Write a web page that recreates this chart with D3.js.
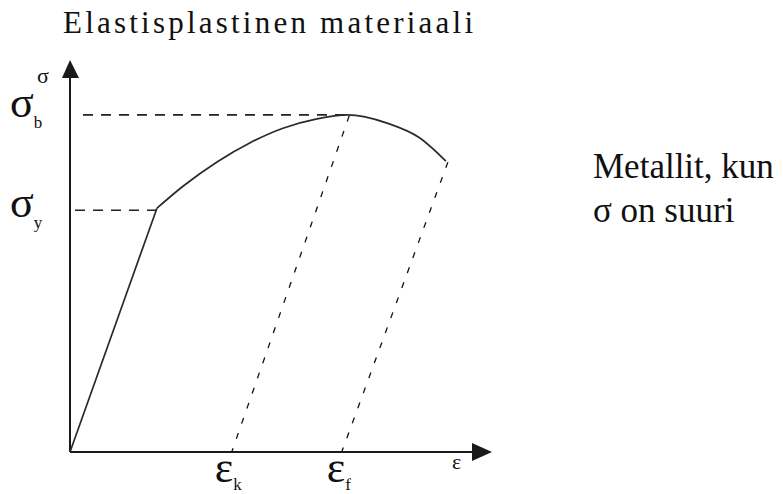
<!DOCTYPE html>
<html>
<head>
<meta charset="utf-8">
<script src="https://cdn.jsdelivr.net/npm/d3@7"></script>
<style>
  body { margin: 0; background: #fff; }
  svg text { font-family: "Liberation Serif", "DejaVu Serif", serif; fill: #111; }
</style>
</head>
<body>
<div id="chart"></div>
<script>
var width = 783, height = 494;

// stress-strain curve (arbitrary units, strain 0..100, stress 0..100)
var elasticStrain = [0, 20.7];
var elasticStress = [0, 62.2];
var plasticStrain = [20.7, 26.9, 35.0, 42.9, 50.7, 58.8, 66.0, 75.5, 83.3, 89.5];
var plasticStress = [62.2, 67.8, 74.0, 78.9, 82.6, 85.0, 86.0, 83.9, 80.1, 74.2];

// reference levels
var sigmaY = 62.2, sigmaB = 86.0;
var epsK = 38.5, epsF = 64.7;
var ultimatePoint = [66.0, 86.0];
var fracturePoint = [89.5, 74.2];

var titleText = "Elastisplastinen materiaali";
var noteLines = ["Metallit, kun", "\u03c3 on suuri"];

var serif = "'Liberation Serif', 'DejaVu Serif', serif";

var svg = d3.select("#chart")
  .append("svg")
  .attr("width", width)
  .attr("height", height);

var xScale = d3.scaleLinear()
  .domain([0, 100])
  .range([70, 490]);

var yScale = d3.scaleLinear()
  .domain([0, 100])
  .range([452, 60]);

// title
svg.append("text")
  .attr("x", 63)
  .attr("y", 33)
  .attr("textLength", 410)
  .attr("lengthAdjust", "spacing")
  .style("font-family", serif)
  .style("font-size", "31px")
  .text(titleText);

// side note
svg.selectAll(".note")
  .data(noteLines)
  .enter()
  .append("text")
  .attr("class", "note")
  .attr("x", 593)
  .attr("y", (d, i) => 178 + i * 44)
  .style("font-family", serif)
  .style("font-size", "35px")
  .text(d => d);

// axes
var axisColor = "#1a1a1a";
svg.append("line")
  .attr("x1", xScale(0)).attr("y1", yScale(0))
  .attr("x2", xScale(0)).attr("y2", yScale(100) + 10)
  .style("stroke", axisColor).style("stroke-width", 2);
svg.append("line")
  .attr("x1", xScale(0)).attr("y1", yScale(0))
  .attr("x2", xScale(100) - 10).attr("y2", yScale(0))
  .style("stroke", axisColor).style("stroke-width", 2);

// arrow heads
var yTip = yScale(100), xTip = xScale(100) + 2;
svg.append("path")
  .attr("d", `M${xScale(0)},${yTip} L${xScale(0) - 8},${yTip + 18} L${xScale(0) + 9},${yTip + 18} Z`)
  .style("fill", axisColor);
svg.append("path")
  .attr("d", `M${xTip},${yScale(0)} L${xTip - 20},${yScale(0) - 9} L${xTip - 20},${yScale(0) + 9} Z`)
  .style("fill", axisColor);

// axis names
svg.append("text")
  .attr("x", 37).attr("y", 83)
  .style("font-family", serif)
  .style("font-size", "22px")
  .text("\u03c3");
svg.append("text")
  .attr("x", 452).attr("y", 469)
  .style("font-family", serif)
  .style("font-size", "22px")
  .text("\u03b5");

// horizontal dashed guides
svg.append("line")
  .attr("x1", xScale(0) + 13).attr("y1", yScale(sigmaB))
  .attr("x2", xScale(ultimatePoint[0])).attr("y2", yScale(sigmaB))
  .style("stroke", "#222").style("stroke-width", 1.6)
  .style("stroke-dasharray", "10,8");
svg.append("line")
  .attr("x1", xScale(0) + 5).attr("y1", yScale(sigmaY) + 2)
  .attr("x2", xScale(elasticStrain[1])).attr("y2", yScale(sigmaY) + 2)
  .style("stroke", "#222").style("stroke-width", 1.6)
  .style("stroke-dasharray", "10,8");

// unloading lines (parallel to elastic part)
var unloads = [[ultimatePoint, epsK], [fracturePoint, epsF]];
svg.selectAll(".unload")
  .data(unloads)
  .enter()
  .append("line")
  .attr("class", "unload")
  .attr("x1", d => xScale(d[0][0]) + 2)
  .attr("y1", d => yScale(d[0][1]) + 1)
  .attr("x2", d => xScale(d[1]))
  .attr("y2", yScale(0))
  .style("stroke", "#111").style("stroke-width", 1.3)
  .style("stroke-dasharray", "6,10");

// curve
var elasticLine = d3.line()
  .x((d, i) => xScale(elasticStrain[i]))
  .y((d, i) => yScale(elasticStress[i]));
svg.append("path")
  .datum(elasticStrain)
  .attr("d", elasticLine)
  .style("fill", "none").style("stroke", "#2a2a2a").style("stroke-width", 1.7);

var plasticLine = d3.line()
  .x((d, i) => xScale(plasticStrain[i]))
  .y((d, i) => yScale(plasticStress[i]))
  .curve(d3.curveMonotoneX);
svg.append("path")
  .datum(plasticStrain)
  .attr("d", plasticLine)
  .style("fill", "none").style("stroke", "#2a2a2a").style("stroke-width", 1.7);

// level labels
function symLabel(x, y, main, sub, size, subSize, subDy) {
  var t = svg.append("text")
    .attr("x", x).attr("y", y)
    .style("font-family", serif)
    .style("font-size", size + "px");
  t.append("tspan").text(main);
  t.append("tspan")
    .attr("dy", subDy)
    .style("font-size", subSize + "px")
    .text(sub);
}
symLabel(10, yScale(sigmaB) + 2, "\u03c3", "b", 44, 17, 11);
symLabel(10, yScale(sigmaY) + 9, "\u03c3", "y", 44, 17, 11);
symLabel(xScale(epsK) - 17, yScale(0) + 30, "\u03b5", "k", 44, 17, 8);
symLabel(xScale(epsF) - 15, yScale(0) + 30, "\u03b5", "f", 44, 17, 8);
</script>
</body>
</html>
